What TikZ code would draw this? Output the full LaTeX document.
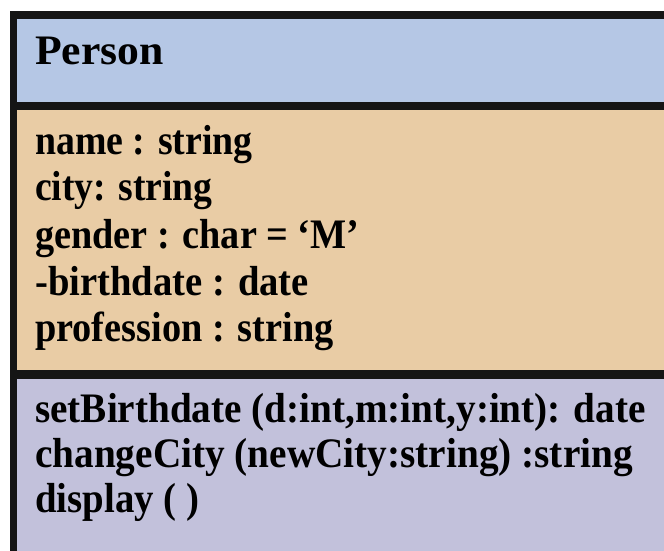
\documentclass[tikz,border=0pt]{standalone}
\usepackage{fontspec}
\setmainfont{Liberation Serif}
\definecolor{hdrblue}{RGB}{181,199,229}
\definecolor{attrtan}{RGB}{233,204,165}
\definecolor{opspurple}{RGB}{194,193,219}
\definecolor{edge}{RGB}{21,21,21}
\newcommand\hsq[2]{\scalebox{#1}[1]{#2}}
\tikzset{
  txt/.style={anchor=base west, inner sep=0pt, font=\bfseries\fontsize{42}{48}\selectfont, text=black},
}
\begin{document}
\begin{tikzpicture}[x=1pt,y=1pt]
\useasboundingbox (0,0) rectangle (664,551);
\fill[white] (0,0) rectangle (664,551);
% compartments
\fill[hdrblue] (17,449) rectangle (664,532);
\fill[attrtan] (17,181) rectangle (664,441);
\fill[opspurple] (17,0) rectangle (664,172);
% borders
\fill[edge] (10,532) rectangle (664,540);
\fill[edge] (10,0) rectangle (17,540);
\fill[edge] (17,441) rectangle (664,449);
\fill[edge] (17,172) rectangle (664,181);
% texts
\node[txt] (title) at (35,486) {\hsq{1.04}{Person}};
\node[txt] (a1) at (35,396) {\hsq{0.90}{name : string}};
\node[txt] (a2) at (35,350) {\hsq{0.895}{city: string}};
\node[txt] (a3) at (35,302) {\hsq{0.91}{gender : char = ‘M’}};
\node[txt] (a4) at (35,255) {\hsq{0.92}{-birthdate : date}};
\node[txt] (a5) at (35,209) {\hsq{0.912}{profession : string}};
\node[txt] (m1) at (35,128) {\hsq{0.933}{setBirthdate (d:int,m:int,y:int): date}};
\node[txt] (m2) at (35,83) {\hsq{0.935}{changeCity (newCity:string) :string}};
\node[txt] (m3) at (35,38) {\hsq{0.924}{display ( )}};
\end{tikzpicture}
\end{document}
